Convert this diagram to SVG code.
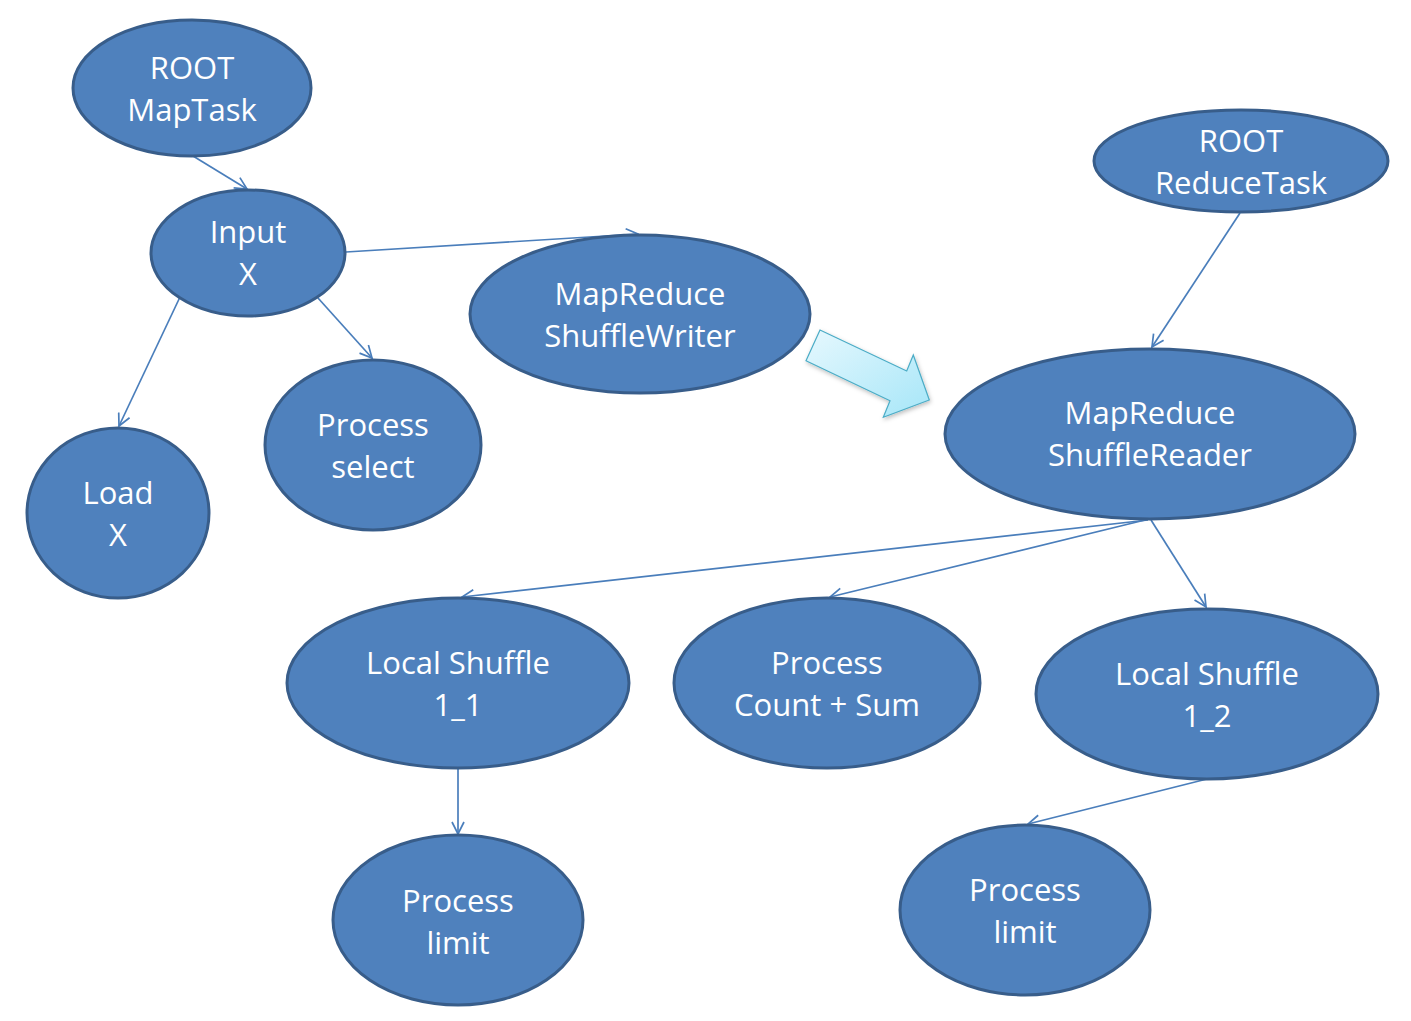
<svg xmlns="http://www.w3.org/2000/svg" width="1411" height="1021" viewBox="0 0 1411 1021">
<style>
.n ellipse{fill:#4F81BD;stroke:#385D8A;stroke-width:3}
.n text{fill:#fff;font-family:"Open Sans","Liberation Sans",Arial,sans-serif;font-size:31px;text-anchor:middle}
.c line{stroke:#4A7EBB;stroke-width:1.7;fill:none;marker-end:url(#ah)}
</style>
<defs>
<marker id="ah" viewBox="0 0 14 14" refX="13" refY="7" markerWidth="14" markerHeight="14" markerUnits="userSpaceOnUse" orient="auto">
<path d="M1,1 L13,7 L1,13" fill="none" stroke="#4A7EBB" stroke-width="1.7"/>
</marker>
<linearGradient id="bg" x1="0" y1="0" x2="1" y2="1">
<stop offset="0" stop-color="#E6F8FE"/>
<stop offset="1" stop-color="#A6E6F8"/>
</linearGradient>
<filter id="sh" x="-20%" y="-20%" width="140%" height="140%">
<feDropShadow dx="1" dy="2" stdDeviation="2" flood-color="#000" flood-opacity="0.25"/>
</filter>
</defs>
<rect width="1411" height="1021" fill="#fff"/>
<g class="c" id="connectors">
<line x1="193" y1="156" x2="247" y2="189"/>
<line x1="346" y1="252" x2="638" y2="234"/>
<line x1="180" y1="297" x2="119" y2="426"/>
<line x1="318" y1="298" x2="372" y2="358"/>
<line x1="1240" y1="213" x2="1152" y2="347"/>
<line x1="1148" y1="520" x2="462" y2="597"/>
<line x1="1145" y1="520" x2="830" y2="597"/>
<line x1="1151" y1="520" x2="1206" y2="607"/>
<line x1="458" y1="768" x2="458" y2="834"/>
<line x1="1207" y1="779" x2="1028" y2="824"/>
</g>
<g id="blockarrow">
<polygon points="820,330 906.7,371 913.3,355 929.3,400 883.3,417.3 890,400.7 806,360.7" fill="url(#bg)" stroke="#4BACC6" stroke-width="1.2" filter="url(#sh)"/>
</g>
<g class="n" id="root-maptask"><ellipse cx="192" cy="88" rx="119" ry="68"/><text x="192" y="79">ROOT</text><text x="192" y="121">MapTask</text></g>
<g class="n" id="input-x"><ellipse cx="248" cy="253" rx="97" ry="63"/><text x="248" y="243">Input</text><text x="248" y="285">X</text></g>
<g class="n" id="shufflewriter"><ellipse cx="640" cy="314" rx="170" ry="79"/><text x="640" y="305">MapReduce</text><text x="640" y="347">ShuffleWriter</text></g>
<g class="n" id="root-reducetask"><ellipse cx="1241" cy="161" rx="147" ry="51"/><text x="1241" y="152">ROOT</text><text x="1241" y="194">ReduceTask</text></g>
<g class="n" id="load-x"><ellipse cx="118" cy="513" rx="91" ry="85"/><text x="118" y="504">Load</text><text x="118" y="546">X</text></g>
<g class="n" id="process-select"><ellipse cx="373" cy="445" rx="108" ry="85"/><text x="373" y="436">Process</text><text x="373" y="478">select</text></g>
<g class="n" id="shufflereader"><ellipse cx="1150" cy="434" rx="205" ry="85"/><text x="1150" y="424">MapReduce</text><text x="1150" y="466">ShuffleReader</text></g>
<g class="n" id="local-shuffle-1-1"><ellipse cx="458" cy="683" rx="171" ry="85"/><text x="458" y="674">Local Shuffle</text><text x="458" y="716">1_1</text></g>
<g class="n" id="process-count-sum"><ellipse cx="827" cy="683" rx="153" ry="85"/><text x="827" y="674">Process</text><text x="827" y="716">Count + Sum</text></g>
<g class="n" id="local-shuffle-1-2"><ellipse cx="1207" cy="694" rx="171" ry="85"/><text x="1207" y="685">Local Shuffle</text><text x="1207" y="727">1_2</text></g>
<g class="n" id="process-limit-1"><ellipse cx="458" cy="920" rx="125" ry="85"/><text x="458" y="912">Process</text><text x="458" y="954">limit</text></g>
<g class="n" id="process-limit-2"><ellipse cx="1025" cy="910" rx="125" ry="85"/><text x="1025" y="901">Process</text><text x="1025" y="943">limit</text></g>
</svg>
